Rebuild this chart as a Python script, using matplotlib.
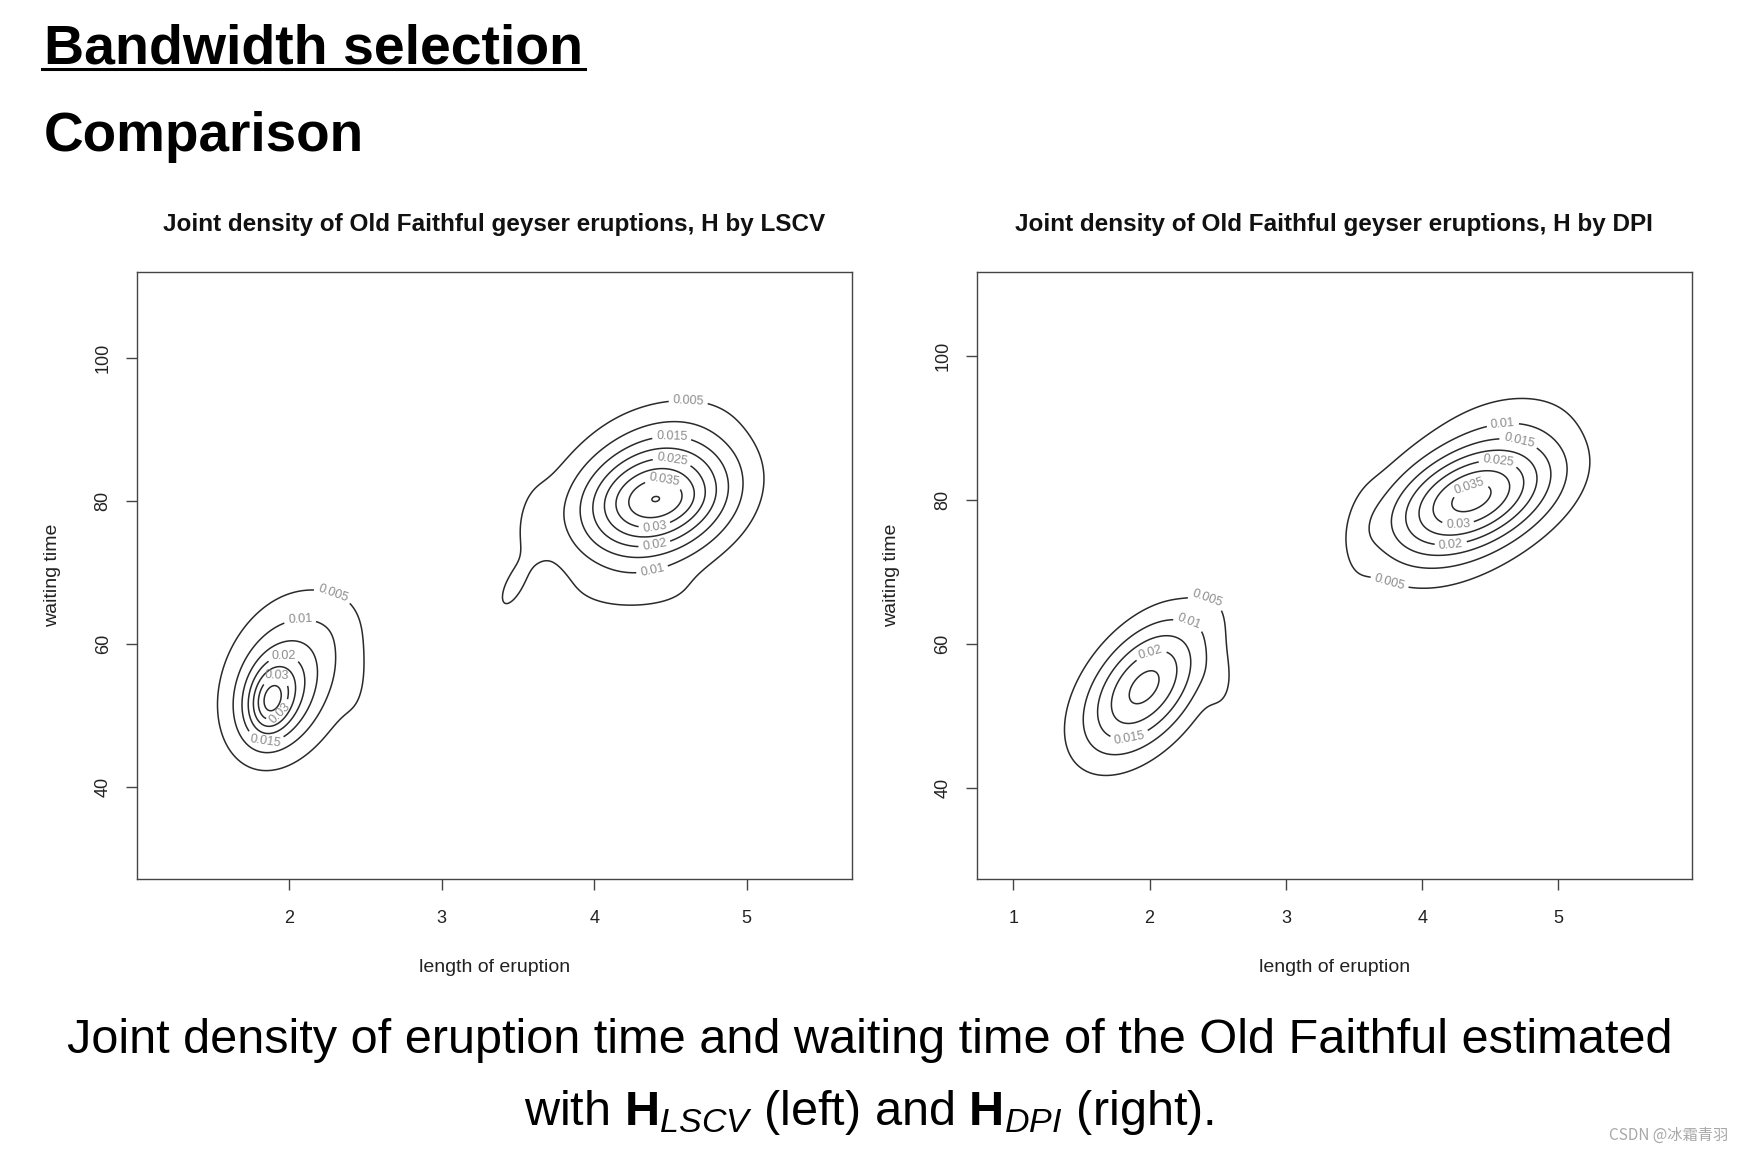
import numpy as np
import matplotlib
matplotlib.use('Agg')
import matplotlib.pyplot as plt
from matplotlib.lines import Line2D

plt.rcParams['font.family'] = ['Liberation Sans', 'DejaVu Sans']
plt.rcParams['mathtext.fontset'] = 'custom'
plt.rcParams['mathtext.rm'] = 'Liberation Sans'
plt.rcParams['mathtext.it'] = 'Liberation Sans:italic'
plt.rcParams['mathtext.bf'] = 'Liberation Sans:bold'

# ---------------- data ----------------
levels = [0.005, 0.01, 0.015, 0.02, 0.025, 0.03, 0.035, 0.04]

# density surface, H by LSCV, as bumps: (x centre, y centre, spread x, spread y, corr, height)
lscv_mx = [1.875, 1.90, 2.05, 1.95, 2.45, 2.35,
           4.40, 4.44, 4.30, 4.55, 3.58, 3.45, 4.35]
lscv_my = [52.0, 52.0, 57.0, 54.0, 53.0, 63.5,
           80.4, 80.0, 80.5, 92.0, 76.0, 67.5, 66.5]
lscv_sx = [0.09, 0.17, 0.27, 0.38, 0.08, 0.12,
           0.35, 0.20, 0.50, 0.35, 0.10, 0.07, 0.45]
lscv_sy = [3.0, 4.8, 7.0, 10.0, 5.0, 3.0,
           5.9, 2.0, 11.0, 3.0, 5.5, 2.5, 2.5]
lscv_rho = [0.20, 0.20, 0.25, 0.15, 0.00, 0.00,
            0.20, 0.10, 0.45, 0.30, 0.20, 0.60, 0.00]
lscv_h = [0.013, 0.014, 0.010, 0.0042, 0.0015, 0.0012,
          0.0343, 0.003, 0.003, 0.0015, 0.0035, 0.005, 0.003]

# density surface, H by DPI
dpi_mx = [1.96, 2.53, 2.45, 4.37, 4.32, 3.55, 4.75]
dpi_my = [54.0, 54.0, 64.5, 80.3, 80.0, 75.0, 92.5]
dpi_sx = [0.32, 0.08, 0.10, 0.43, 0.46, 0.10, 0.45]
dpi_sy = [6.7, 3.0, 2.5, 5.4, 9.5, 6.0, 3.5]
dpi_rho = [0.48, 0.00, 0.00, 0.42, 0.45, 0.30, 0.30]
dpi_h = [0.0265, 0.003, 0.0015, 0.030, 0.007, 0.002, 0.0018]

# contour label anchor points
lscv_lab_x = [4.617, 4.508, 4.508, 4.453, 4.399, 4.399, 4.377, 2.278, 2.071, 1.961, 1.918, 1.929, 1.841]
lscv_lab_y = [94.1, 88.8, 85.3, 82.0, 75.9, 73.3, 70.6, 66.4, 63.35, 59.2, 55.7, 50.5, 46.3]
dpi_lab_x = [4.592, 4.702, 4.555, 4.372, 4.262, 4.213, 3.724, 2.417, 2.295, 2.014, 1.855]
dpi_lab_y = [90.5, 87.6, 84.8, 80.7, 77.0, 73.3, 66.5, 65.9, 63.3, 58.5, 46.9]

lscv_xticks = [2, 3, 4, 5]
dpi_xticks = [1, 2, 3, 4, 5]
yticks = [40, 60, 80, 100]

titles = ['Joint density of Old Faithful geyser eruptions, H by LSCV',
          'Joint density of Old Faithful geyser eruptions, H by DPI']
xlabel = 'length of eruption'
ylabel = 'waiting time'


def surface(X, Y, mx, my, sx, sy, rho, h):
    Z = np.zeros_like(X)
    for a, b, s1, s2, r, hh in zip(mx, my, sx, sy, rho, h):
        z1 = (X - a) / s1
        z2 = (Y - b) / s2
        q = (z1 ** 2 - 2 * r * z1 * z2 + z2 ** 2) / (1 - r ** 2)
        Z += hh * np.exp(-q / 2)
    return Z


W, H = 1742, 1154
fig = plt.figure(figsize=(W / 100, H / 100), dpi=100)

panels = [
    dict(rect=[136.7, 272, 852, 879], xlim=(1.0, 5.69), ylim=(27.1, 112.0), xt=lscv_xticks,
         comp=(lscv_mx, lscv_my, lscv_sx, lscv_sy, lscv_rho, lscv_h), lab=(lscv_lab_x, lscv_lab_y)),
    dict(rect=[976.5, 272, 1692, 879], xlim=(0.73, 5.98), ylim=(27.4, 111.6), xt=dpi_xticks,
         comp=(dpi_mx, dpi_my, dpi_sx, dpi_sy, dpi_rho, dpi_h), lab=(dpi_lab_x, dpi_lab_y)),
]

line_col = '#2a2a2a'
for i, p in enumerate(panels):
    x0, y0, x1, y1 = p['rect']
    ax = fig.add_axes([x0 / W, 1 - y1 / H, (x1 - x0) / W, (y1 - y0) / H])
    ax.set_xlim(*p['xlim'])
    ax.set_ylim(*p['ylim'])
    gx = np.linspace(p['xlim'][0], p['xlim'][1], 600)
    gy = np.linspace(p['ylim'][0], p['ylim'][1], 600)
    X, Y = np.meshgrid(gx, gy)
    Z = surface(X, Y, *p['comp'])
    cs = ax.contour(X, Y, Z, levels=levels, colors=line_col, linewidths=1.1)
    pos = list(zip(*p['lab']))
    ax.clabel(cs, manual=pos, inline=True, inline_spacing=4, fontsize=9,
              colors='#8c8c8c', fmt=lambda v: f'{v:g}')
    ax.set_xticks(p['xt'])
    ax.set_yticks(yticks)
    ax.tick_params(direction='out', length=8, width=1, color='#444444',
                   labelsize=13, labelcolor='#222222')
    ax.tick_params(axis='x', pad=14)
    ax.tick_params(axis='y', pad=10, labelrotation=90)
    for lab in ax.get_yticklabels():
        lab.set_va('center')
    for s in ax.spines.values():
        s.set_color('#444444')
        s.set_linewidth(1.0)
    cx = (x0 + x1) / 2 / W
    fig.text(cx, 1 - 224 / H, titles[i], ha='center', va='center', fontsize=17.5,
             fontweight='bold', color='#111111')
    fig.text(cx, 1 - 968 / H, xlabel, ha='center', va='center', fontsize=14, color='#222222')
    fig.text((x0 - 84.6) / W, 1 - (y0 + y1) / 2 / H, ylabel, ha='center', va='center',
             rotation=90, fontsize=14, color='#222222')

# slide heading
t1 = fig.text(44 / W, 1 - 63 / H, 'Bandwidth selection', ha='left', va='baseline',
              fontsize=40, fontweight='bold', color='black')
fig.text(44 / W, 1 - 151 / H, 'Comparison', ha='left', va='baseline',
         fontsize=39.5, fontweight='bold', color='black')
fig.canvas.draw()
bb = t1.get_window_extent()
fig.add_artist(Line2D([bb.x0 / W - 0.001, bb.x1 / W + 0.001], [1 - 69 / H, 1 - 69 / H],
                      transform=fig.transFigure, color='black', lw=2.2))

# caption
fig.text(0.499, 1 - 1053 / H,
         'Joint density of eruption time and waiting time of the Old Faithful estimated',
         ha='center', va='baseline', fontsize=35, color='black')
fig.text(0.499, 1 - 1125 / H,
         r'with $\mathbf{H}_{LSCV}$ (left) and $\mathbf{H}_{DPI}$ (right).',
         ha='center', va='baseline', fontsize=35, color='black')

fig.text(1728 / W, 1 - 1135 / H, 'CSDN @冰霜青羽', ha='right', va='center', fontsize=11,
         color='#a8a8a8', family=['Noto Sans CJK SC', 'DejaVu Sans'])

fig.savefig('out.png', dpi=100)
